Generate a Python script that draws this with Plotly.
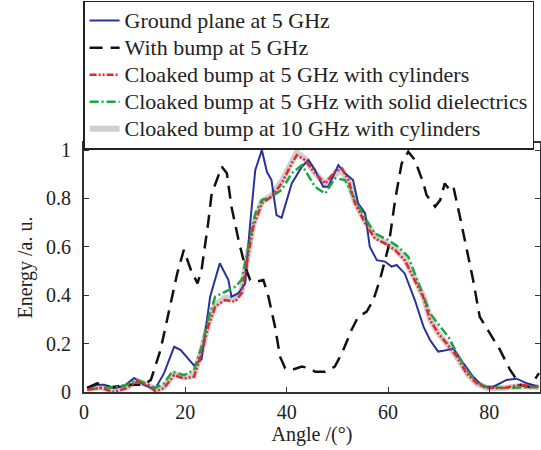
import plotly.graph_objects as go

# ---- data ----
ground_x = [0.6, 2.6, 4.0, 5.9, 7.9, 9.9, 11.8, 13.4, 14.1, 15.8, 17.8, 19.1, 21.7, 23.2, 24.9, 26.8,
            28.5, 29.1, 30.5, 31.8, 32.8, 33.8, 35.1, 36.1, 37.0, 38.0, 39.0, 41.0, 43.0, 44.3, 45.6,
            47.2, 48.2, 50.2, 51.5, 53.1, 54.1, 55.5, 56.4, 57.8, 59.4, 60.7, 61.7, 63.3, 65.3, 67.0,
            68.3, 69.9, 70.9, 72.9, 74.9, 76.8, 78.8, 80.8, 83.4, 85.4, 87.4, 89.7]
ground_y = [0.017, 0.03, 0.03, 0.016, 0.025, 0.058, 0.03, 0.015, 0.015, 0.078, 0.187, 0.173, 0.11, 0.135, 0.394, 0.532,
            0.463, 0.394, 0.408, 0.449, 0.697, 0.917, 1.0, 0.91, 0.876, 0.731, 0.72, 0.862, 0.931, 0.959, 0.917,
            0.848, 0.848, 0.938, 0.904, 0.876, 0.78, 0.738, 0.60, 0.545, 0.539, 0.518, 0.525, 0.49, 0.38, 0.27,
            0.215, 0.167, 0.17, 0.18, 0.118, 0.063, 0.022, 0.022, 0.05, 0.055, 0.036, 0.022]

bump_x = [0.6, 2.6, 5.3, 8.5, 11.8, 13.2, 15.1, 17.1, 18.4, 19.7, 21.1, 22.4, 23.2, 24.5, 25.2, 27.2,
          28.2, 29.1, 30.5, 31.8, 32.8, 34.1, 35.4, 36.4, 37.7, 38.7, 39.7, 41.0, 43.0, 44.6, 45.6,
          47.6, 49.5, 50.9, 52.8, 54.1, 55.8, 57.1, 58.4, 60.1, 61.4, 62.7, 64.0, 65.3, 67.0, 67.6,
          69.3, 70.3, 71.2, 72.2, 72.9, 74.2, 75.5, 76.8, 78.1, 80.1, 82.1, 84.1, 86.1, 88.0, 89.8]
bump_y = [0.017, 0.036, 0.02, 0.03, 0.03, 0.05, 0.174, 0.366, 0.49, 0.587, 0.504, 0.449, 0.504, 0.697, 0.82, 0.931,
          0.904, 0.766, 0.628, 0.518, 0.463, 0.456, 0.463, 0.394, 0.27, 0.146, 0.098, 0.091, 0.105, 0.098, 0.084,
          0.084, 0.105, 0.16, 0.256, 0.311, 0.332, 0.38, 0.463, 0.60, 0.793, 0.945, 0.993, 0.959, 0.862, 0.814,
          0.766, 0.793, 0.862, 0.835, 0.848, 0.724, 0.60, 0.463, 0.311, 0.243, 0.174, 0.091, 0.029, 0.02, 0.078]

cyl_x = [0.6, 3.3, 5.9, 8.5, 10.5, 12.5, 14.1, 15.8, 17.8, 19.7, 21.7, 23.2, 24.5, 25.9, 27.8, 29.8,
         31.1, 32.4, 33.4, 35.1, 37.0, 39.0, 41.0, 42.0, 43.6, 45.6, 47.6, 49.5, 50.9, 52.2, 53.5,
         55.5, 57.4, 59.4, 61.4, 63.3, 65.3, 67.0, 68.3, 69.9, 71.6, 73.6, 75.5, 77.5, 79.5, 83.0,
         86.1, 89.7]
cyl_y = [0.01, 0.017, 0.0, 0.017, 0.043, 0.03, 0.003, 0.017, 0.07, 0.056, 0.063, 0.16, 0.27, 0.353, 0.38, 0.373,
         0.408, 0.573, 0.683, 0.78, 0.807, 0.862, 0.945, 0.979, 0.959, 0.904, 0.862, 0.91, 0.924, 0.876, 0.78,
         0.697, 0.635, 0.614, 0.587, 0.545, 0.463, 0.39, 0.298, 0.243, 0.2, 0.146, 0.077, 0.036, 0.017, 0.017,
         0.03, 0.02]

solid_x = [0.6, 3.3, 5.9, 8.5, 10.5, 12.5, 14.1, 15.8, 17.4, 19.7, 21.7, 23.2, 24.5, 25.9, 27.8, 29.8,
           31.1, 32.4, 33.8, 35.1, 37.0, 39.0, 41.0, 43.0, 44.9, 45.6, 47.6, 49.5, 51.5, 53.5, 55.5,
           57.4, 60.1, 62.0, 64.0, 66.0, 68.3, 70.3, 71.9, 73.6, 75.5, 77.5, 79.5, 83.0, 86.1, 89.7]
solid_y = [0.01, 0.017, 0.02, 0.03, 0.05, 0.03, 0.017, 0.036, 0.084, 0.07, 0.09, 0.187, 0.298, 0.394, 0.414, 0.435,
           0.463, 0.60, 0.738, 0.793, 0.807, 0.835, 0.904, 0.938, 0.876, 0.848, 0.82, 0.883, 0.876, 0.793, 0.718,
           0.655, 0.628, 0.60, 0.559, 0.45, 0.325, 0.27, 0.229, 0.16, 0.091, 0.04, 0.02, 0.017, 0.017, 0.02]

ghz10_x = [0.6, 3.3, 5.9, 8.5, 10.5, 12.5, 14.1, 15.8, 17.8, 19.7, 21.7, 23.2, 24.5, 25.9, 27.8, 29.8,
           31.1, 32.4, 33.4, 35.1, 37.0, 39.0, 41.0, 42.0, 43.6, 45.6, 47.6, 49.5, 50.9, 52.2, 53.5,
           55.5, 57.4, 59.4, 61.4, 63.3, 65.3, 67.0, 68.3, 69.9, 71.6, 73.6, 75.5, 77.5, 79.5, 83.0,
           86.1, 89.7]
ghz10_y = [0.012, 0.02, 0.005, 0.02, 0.045, 0.03, 0.008, 0.02, 0.075, 0.06, 0.068, 0.17, 0.28, 0.36, 0.39, 0.385,
           0.415, 0.58, 0.69, 0.785, 0.812, 0.87, 0.95, 0.99, 0.965, 0.905, 0.86, 0.9, 0.915, 0.87, 0.785,
           0.705, 0.645, 0.62, 0.59, 0.55, 0.47, 0.395, 0.3, 0.245, 0.2, 0.145, 0.08, 0.035, 0.017, 0.017,
           0.025, 0.02]

names = ["Ground plane at 5 GHz", "With bump at 5 GHz", "Cloaked bump at 5 GHz with cylinders",
         "Cloaked bump at 5 GHz with solid dielectrics", "Cloaked bump at 10 GHz with cylinders"]

x_ticks = [0, 20, 40, 60, 80]
y_ticks = [0, 0.2, 0.4, 0.6, 0.8, 1]
y_tick_text = ["0", "0.2", "0.4", "0.6", "0.8", "1"]

FONT = "Liberation Serif, Times New Roman, serif"


def leg(name):
    # legend text drawn a bit larger than the row spacing font
    return '<span style="font-size:22px">' + name + '</span>'


fig = go.Figure()
fig.add_trace(go.Scatter(x=ghz10_x, y=ghz10_y, mode="lines", name=leg(names[4]),
                         line=dict(color="#cfcfcf", width=6), legendrank=5))
fig.add_trace(go.Scatter(x=ground_x, y=ground_y, mode="lines", name=leg(names[0]),
                         line=dict(color="#2a309c", width=2), legendrank=1))
fig.add_trace(go.Scatter(x=bump_x, y=bump_y, mode="lines", name=leg(names[1]),
                         line=dict(color="#111111", width=2.5, dash="13px,8px"), legendrank=2))
fig.add_trace(go.Scatter(x=solid_x, y=solid_y, mode="lines", name=leg(names[3]),
                         line=dict(color="#1aa640", width=2.5, dash="9px,3px,2px,3px"), legendrank=4))
fig.add_trace(go.Scatter(x=cyl_x, y=cyl_y, mode="lines", name=leg(names[2]),
                         line=dict(color="#e8262c", width=2.5, dash="7px,2px,2px,2px,2px,2px"), legendrank=3))

axis_common = dict(showline=True, linecolor="#333333", linewidth=2, mirror="ticks",
                   ticks="inside", ticklen=5, tickwidth=1.2, tickcolor="#333333",
                   showgrid=False, zeroline=False,
                   tickfont=dict(family=FONT, size=20, color="#222222"))

fig.update_layout(
    width=541, height=450,
    margin=dict(l=84, r=1, t=143, b=58, autoexpand=False),
    plot_bgcolor="white", paper_bgcolor="white",
    font=dict(family=FONT, color="#222222"),
    xaxis=dict(range=[0, 90], tickvals=x_ticks, ticklabelstandoff=1,
               title=dict(text="Angle /(°)", font=dict(family=FONT, size=20), standoff=2),
               **axis_common),
    yaxis=dict(range=[0, 1.029], tickvals=y_ticks, ticktext=y_tick_text, ticklabelstandoff=7,
               title=dict(text="Energy /a. u.", font=dict(family=FONT, size=20), standoff=8),
               **axis_common),
    legend=dict(x=-0.002, y=1.572, xanchor="left", yanchor="top",
                bgcolor="white", bordercolor="#222222", borderwidth=1.5,
                font=dict(family=FONT, size=18.5, color="#222222"),
                itemwidth=30, tracegroupgap=0, traceorder="normal"),
    showlegend=True,
)

fig.write_html("out.html", config={"displayModeBar": False},
               post_script="document.body.style.margin='0';")
